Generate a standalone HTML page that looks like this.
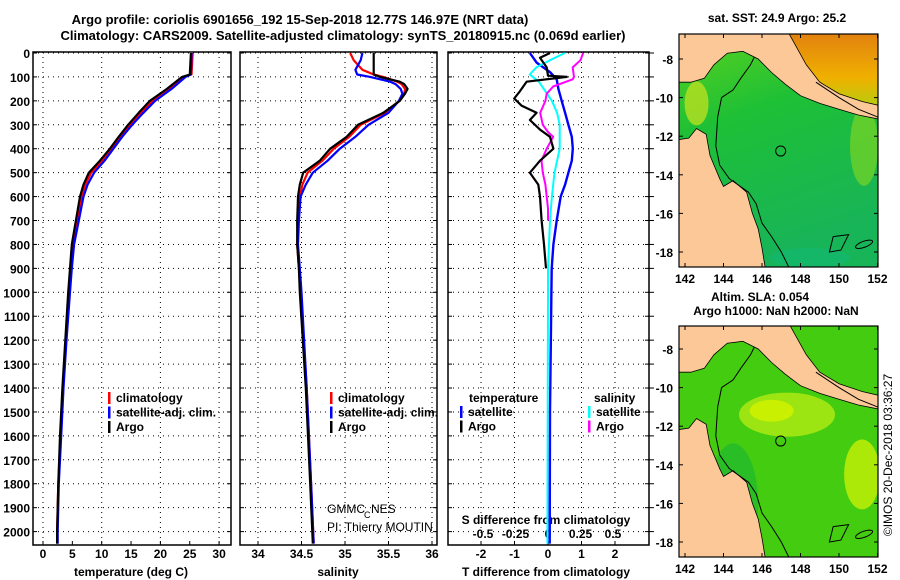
<!DOCTYPE html>
<html><head><meta charset="utf-8"><style>
body{margin:0;background:#fff;}
svg{display:block;font-family:"Liberation Sans",sans-serif;font-weight:bold;}
</style></head><body>
<svg id="c" width="900" height="580" viewBox="0 0 900 580" xmlns="http://www.w3.org/2000/svg">
<text x="300" y="24" font-size="13" text-anchor="middle">Argo profile: coriolis 6901656_192 15-Sep-2018 12.77S 146.97E (NRT data)</text>
<text x="343" y="40" font-size="13" text-anchor="middle">Climatology: CARS2009. Satellite-adjusted climatology: synTS_20180915.nc (0.069d earlier)</text>
<g id="p1"></g>
<g id="p2"></g>
<g id="p3"></g>
<g id="m1"></g>
<g id="m2"></g>
<text x="777" y="22" font-size="12" text-anchor="middle">sat. SST: 24.9 Argo: 25.2</text>
<text x="760" y="301" font-size="12" text-anchor="middle">Altim. SLA: 0.054</text>
<text x="776" y="315" font-size="12" text-anchor="middle">Argo h1000: NaN h2000: NaN</text>
<text transform="translate(892,455) rotate(-90)" font-size="12" font-weight="normal" text-anchor="middle">©IMOS 20-Dec-2018 03:36:27</text>
</svg>
<script>
// ---- data ----
const depthTicks=[0,100,200,300,400,500,600,700,800,900,1000,1100,1200,1300,1400,1500,1600,1700,1800,1900,2000];
const tempTicks=[0,5,10,15,20,25,30];
const salTicks=[34,34.5,35,35.5,36];
const tdiffTicks=[-2,-1,0,1,2];
const sdiffTicks=[-0.5,-0.25,0,0.25,0.5];
const argoDepth=[0,90,100,150,200,250,300,350,400,450,500,550,600,700,800,900,1000,1200,1400,1600,1800,2000,2050];
const argoTemp=[25.2,25.0,23.7,21.1,18.2,16.3,14.5,12.9,11.4,9.7,7.8,6.9,6.3,5.6,4.9,4.6,4.3,3.8,3.3,2.9,2.6,2.4,2.4];
const climTemp=[25.5,25.3,23.9,21.5,18.7,16.7,14.8,13.2,11.6,10.1,8.2,7.2,6.6,5.8,5.1,4.7,4.4,3.9,3.4,3.0,2.6,2.4,2.4];
const satTemp=[25.3,25.2,24.3,21.9,19.1,17.1,15.2,13.5,12.0,10.5,8.7,7.6,6.9,6.1,5.3,4.9,4.6,4.0,3.5,3.1,2.7,2.5,2.5];
const salDepth=[0,30,70,90,100,120,130,150,170,200,250,300,350,400,450,500,550,600,700,800,900,1000,1400,1800,2050];
const argoSal=[35.33,35.33,35.33,35.33,35.40,35.63,35.68,35.72,35.69,35.63,35.44,35.15,35.02,34.83,34.71,34.52,34.48,34.46,34.45,34.45,34.47,34.48,34.55,34.60,34.63];
const climSal=[35.06,35.10,35.20,35.33,35.44,35.60,35.65,35.69,35.68,35.62,35.46,35.18,35.05,34.87,34.74,34.57,34.51,34.48,34.46,34.45,34.47,34.49,34.56,34.61,34.64];
const satSal=[35.20,35.18,35.12,35.14,35.29,35.52,35.58,35.64,35.66,35.62,35.50,35.27,35.12,34.94,34.80,34.63,34.55,34.49,34.47,34.46,34.48,34.50,34.56,34.61,34.64];
const tdDepth=[0,20,60,95,100,120,160,190,220,250,280,320,350,400,450,500,550,600,700,800,900];
const argoTdiff=[0.06,-0.24,-0.04,0.0,0.56,-0.64,-0.84,-1.01,-0.79,-0.34,-0.54,-0.24,0.06,0.16,-0.24,-0.54,-0.29,-0.24,-0.19,-0.12,-0.06];
const satTdDepth=[0,40,80,110,150,200,250,300,350,400,450,500,550,600,700,800,900,1000,1500,2050];
const satTdiff=[-0.54,-0.34,0.06,0.26,0.31,0.41,0.51,0.61,0.71,0.74,0.71,0.61,0.51,0.38,0.26,0.16,0.11,0.10,0.06,0.05];
const satSdDepth=[0,30,60,90,120,160,200,250,300,350,400,450,500,600,700,900,1000,2050];
const satSdiff=[0.13,0.015,-0.09,-0.14,-0.07,-0.02,0.03,0.07,0.09,0.09,0.09,0.07,0.05,0.03,0.015,0.0,0.0,-0.005];
const sdDepth=[0,30,60,100,110,120,140,170,200,250,300,330,350,400,450,500,550,600,650,700];
const argoSdiff=[0.27,0.25,0.19,0.2,0.19,0.14,0.04,-0.01,-0.02,-0.06,-0.04,0.0,0.04,-0.01,-0.05,-0.04,-0.02,-0.01,0.0,0.0];
const lonTicks=[142,144,146,148,150,152];
const latTicks=[-8,-10,-12,-14,-16,-18];
const profLon=146.97, profLat=-12.77;

// ---- helpers ----
const NS="http://www.w3.org/2000/svg";
function mk(tag,attrs,parent,text){const e=document.createElementNS(NS,tag);for(const k in attrs)e.setAttribute(k,attrs[k]);if(text!==undefined)e.textContent=text;parent.appendChild(e);return e;}
const yD=d=>53+d*0.2393;
const TOP=52,BOT=545;
const xT=t=>43+t*5.87;
const xS=s=>258+(s-34)*87;
const xTD=t=>548+t*33.5;
const xSD=s=>548+s*130;

function panel(g,x0,x1,vticksX,name){
  for(const d of depthTicks){const l=mk('line',{x1:x0,x2:x1,y1:yD(d),y2:yD(d),stroke:'#000','stroke-width':1,'stroke-dasharray':'1,4'},g);
    
    mk('line',{x1:x0,x2:x0+4,y1:yD(d),y2:yD(d),stroke:'#000'},g);mk('line',{x1:x1-4,x2:x1,y1:yD(d),y2:yD(d),stroke:'#000'},g);}
  for(const x of vticksX){const l=mk('line',{x1:x,x2:x,y1:TOP,y2:BOT,stroke:'#000','stroke-width':1,'stroke-dasharray':'1,4'},g);
    }
  const r=mk('rect',{x:x0,y:TOP,width:x1-x0,height:BOT-TOP,fill:'none',stroke:'#000','stroke-width':1.5},g);
  
}
function line(g,xs,ds,fx,col,name,w){
  const pts=xs.map((v,i)=>fx(v).toFixed(1)+','+yD(ds[i]).toFixed(1)).join(' ');
  const p=mk('polyline',{points:pts,fill:'none',stroke:col,'stroke-width':w||2.2,'stroke-linejoin':'round'},g);
  
}
function txt(g,x,y,s,anchor,size,name,weight){const t=mk('text',{x:x,y:y,'font-size':size||12,'text-anchor':anchor||'middle'},g,s);
  if(weight)t.setAttribute('font-weight',weight);
  return t;}
function legend(g,x,y,items,name){items.forEach((it,i)=>{const yy=y+i*14.5;
  mk('rect',{x:x,y:yy-10,width:2.5,height:12,fill:it[1]},g);txt(g,x+8,yy,it[0],'start',12,name+'-entry');});}

// ---- panel 1 ----
const p1=document.getElementById('p1');
panel(p1,33,231,[0,10,20,30].map(xT),'temperature');
for(const d of depthTicks)txt(p1,30,yD(d)+5,String(d),'end',12,'y-tick-label');
for(const t of tempTicks){mk('line',{x1:xT(t),x2:xT(t),y1:BOT,y2:BOT-4,stroke:'#000'},p1);txt(p1,xT(t),558,String(t),'middle',12,'x-tick-label');}
txt(p1,131,576,'temperature (deg C)','middle',12,'x-axis-title');
line(p1,climTemp,argoDepth,xT,'#f00','climatology-temp-line');
line(p1,satTemp,argoDepth,xT,'#00f','satellite-temp-line');
line(p1,argoTemp,argoDepth,xT,'#000','argo-temp-line');
legend(p1,108,402,[['climatology','#f00'],['satellite-adj. clim.','#00f'],['Argo','#000']],'temp-legend');

// ---- panel 2 ----
const p2=document.getElementById('p2');
panel(p2,240,437,salTicks.map(xS),'salinity');
for(const s of salTicks){mk('line',{x1:xS(s),x2:xS(s),y1:BOT,y2:BOT-4,stroke:'#000'},p2);txt(p2,xS(s),558,String(s),'middle',12,'x-tick-label');}
txt(p2,338,576,'salinity','middle',12,'x-axis-title');
line(p2,climSal,salDepth,xS,'#f00','climatology-sal-line');
line(p2,satSal,salDepth,xS,'#00f','satellite-sal-line');
line(p2,argoSal,salDepth,xS,'#000','argo-sal-line');
legend(p2,330,402,[['climatology','#f00'],['satellite-adj. clim.','#00f'],['Argo','#000']],'sal-legend');
txt(p2,327,513,'GMMC','start',12,'credit-gmmc','normal');
txt(p2,364,518,'C','start',9,'credit-c','normal');
txt(p2,371,513,'NES','start',12,'credit-nes','normal');
txt(p2,327,531,'PI: Thierry MOUTIN','start',12,'credit-pi','normal');

// ---- panel 3 ----
const p3=document.getElementById('p3');
panel(p3,448,649,[-2,-1,1,2].map(xTD),'difference');
for(const d of depthTicks)mk('line',{x1:649,x2:654,y1:yD(d),y2:yD(d),stroke:'#000'},p3);
for(const t of tdiffTicks){mk('line',{x1:xTD(t),x2:xTD(t),y1:BOT,y2:BOT-4,stroke:'#000'},p3);txt(p3,xTD(t),558,String(t),'middle',12,'x-tick-label');}
for(const s of sdiffTicks)txt(p3,xSD(s),538,String(s),'middle',12,'s-diff-tick-label');
txt(p3,546,524,'S difference from climatology','middle',12,'s-diff-axis-title');
txt(p3,546,576,'T difference from climatology','middle',12,'x-axis-title');
line(p3,satTdiff,satTdDepth,xTD,'#00f','satellite-tdiff-line',2.4);
line(p3,satSdiff,satSdDepth,xSD,'#0ff','satellite-sdiff-line',2);
line(p3,argoSdiff,sdDepth,xSD,'#f0f','argo-sdiff-line',2);
line(p3,argoTdiff,tdDepth,xTD,'#000','argo-tdiff-line',2.2);
txt(p3,469,402,'temperature','start',12,'legend-heading-temperature');
txt(p3,594,402,'salinity','start',12,'legend-heading-salinity');
legend(p3,460,416,[['satellite','#00f'],['Argo','#000']],'tdiff-legend');
legend(p3,588,416,[['satellite','#0ff'],['Argo','#f0f']],'sdiff-legend');

// ---- maps ----
function mapPanel(g,top,bot,latRef,yLat18,mode){
  const L=679,R=878;
  const xL=lon=>685+(lon-142)*19.25;
  const yL=lat=>latRef+(-8-lat)*((yLat18-latRef)/10);
  const P=a=>a.map(p=>xL(p[0]).toFixed(1)+','+yL(p[1]).toFixed(1)).join(' ');
  const id='clip'+mode;
  const cp=mk('clipPath',{id:id},g);mk('rect',{x:L,y:top,width:R-L,height:bot-top},cp);
  const inner=mk('g',{'clip-path':'url(#'+id+')'},g);
  const defs=mk('defs',{},g);
  if(mode==='sst'){
    const gr=mk('linearGradient',{id:'sg',x1:0,y1:0,x2:0.3,y2:1},defs);
    mk('stop',{offset:0,'stop-color':'#5cd21e'},gr);mk('stop',{offset:0.4,'stop-color':'#1ec036'},gr);mk('stop',{offset:1,'stop-color':'#18b458'},gr);
    mk('rect',{x:L,y:top,width:R-L,height:bot-top,fill:'url(#sg)'},inner);
    mk('ellipse',{cx:xL(151.3),cy:yL(-12.5),rx:14,ry:40,fill:'#8ad820',opacity:0.6},inner);
    mk('ellipse',{cx:xL(142.6),cy:yL(-10.3),rx:12,ry:22,fill:'#b8e020',opacity:0.8},inner);
    mk('ellipse',{cx:xL(148.5),cy:yL(-18.3),rx:40,ry:10,fill:'#10b878',opacity:0.5},inner);
    const og=mk('linearGradient',{id:'og',x1:0,y1:0,x2:0,y2:1},defs);
    mk('stop',{offset:0,'stop-color':'#e07e10'},og);mk('stop',{offset:0.6,'stop-color':'#f0b000'},og);mk('stop',{offset:1,'stop-color':'#b0d010'},og);
    mk('polygon',{points:P([[147.3,-6.5],[152.5,-6.5],[152.5,-10.6],[151.2,-10.3],[150,-9.9],[149,-9.3],[148.3,-8.4]]),fill:'url(#og)'},inner);
  } else {
    mk('rect',{x:L,y:top,width:R-L,height:bot-top,fill:'#44cc10'},inner);
    mk('ellipse',{cx:xL(147.3),cy:yL(-11.4),rx:48,ry:22,fill:'#a6e814',opacity:0.9},inner);
    mk('ellipse',{cx:xL(146.5),cy:yL(-11.2),rx:22,ry:11,fill:'#c8f000'},inner);
    mk('ellipse',{cx:xL(151.2),cy:yL(-14.5),rx:18,ry:35,fill:'#b8ec08',opacity:0.9},inner);
    mk('ellipse',{cx:xL(144.5),cy:yL(-16),rx:25,ry:60,fill:'#20b830',opacity:0.7},inner);
    mk('ellipse',{cx:xL(147),cy:yL(-7.3),rx:12,ry:8,fill:'#20c8a0'},inner);
  }
  const land='#fcc898';
  mk('polygon',{points:P([[141.5,-6.5],[147.3,-6.5],[148.3,-8.3],[149,-9.2],[150,-9.8],[151.2,-10.2],[152.5,-10.5],[152.5,-11.2],[151,-10.9],[150,-10.6],[149,-10.3],[148,-9.9],[147.2,-9.3],[146.5,-8.7],[145.8,-8.0],[145,-7.6],[144.2,-7.7],[143.5,-8.3],[143,-9],[142.3,-9.2],[141.5,-9.2]]),fill:land,stroke:'#000','stroke-width':0.8},inner);
  mk('polygon',{points:P([[141.5,-12.2],[142.2,-12.1],[142.6,-11.6],[143.1,-11.9],[143.3,-13],[143.8,-14.2],[144,-14.6],[144.5,-14.3],[145.2,-14.9],[145.5,-16],[145.8,-16.8],[146,-17.8],[146.2,-19],[141.5,-19]]),fill:land,stroke:'#000','stroke-width':0.8},inner);
  mk('polyline',{points:P([[145.6,-7.9],[145.4,-8.3],[144.9,-9],[144.5,-9.6],[143.9,-10],[143.7,-11],[143.6,-12.5],[143.8,-13.5],[144.3,-14.2],[145.3,-14.9],[145.7,-15.5],[146,-16.5],[146.5,-17.2],[147,-18],[147.5,-19]]),fill:'none',stroke:'#000','stroke-width':1},inner);
  mk('polyline',{points:P([[148.8,-9.2],[150,-10],[151,-10.6],[152.5,-11.2]]),fill:'none',stroke:'#000','stroke-width':1},inner);
  mk('polygon',{points:P([[149.7,-17.2],[150.5,-17.1],[150.1,-17.9],[149.5,-18]]),fill:'none',stroke:'#000','stroke-width':1},inner);
  mk('ellipse',{cx:xL(151.3),cy:yL(-17.6),rx:9,ry:3,transform:'rotate(-20 '+xL(151.3)+' '+yL(-17.6)+')',fill:'none',stroke:'#000','stroke-width':1},inner);
  mk('rect',{x:L,y:top,width:R-L,height:bot-top,fill:'none',stroke:'#000','stroke-width':1.2},g);
  const c=mk('circle',{cx:xL(profLon),cy:yL(profLat),r:5,fill:'none',stroke:'#000','stroke-width':1},g);
  
  for(const lo of lonTicks){mk('line',{x1:xL(lo),x2:xL(lo),y1:top,y2:top+4,stroke:'#000'},g);mk('line',{x1:xL(lo),x2:xL(lo),y1:bot,y2:bot-4,stroke:'#000'},g);
    txt(g,xL(lo),bot+16,String(lo),'middle',12,'lon-tick-label');}
  for(const la of latTicks){mk('line',{x1:L,x2:L+4,y1:yL(la),y2:yL(la),stroke:'#000'},g);mk('line',{x1:R,x2:R-4,y1:yL(la),y2:yL(la),stroke:'#000'},g);
    txt(g,673,yL(la)+5,String(la),'end',12,'lat-tick-label');}
}
mapPanel(document.getElementById('m1'),34,267,59,252,'sst');
mapPanel(document.getElementById('m2'),326,557,349,542,'sla');
</script>
</body></html>
